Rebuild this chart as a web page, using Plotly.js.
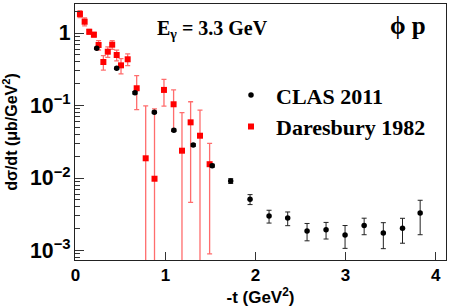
<!DOCTYPE html>
<html><head>
<script src="https://cdn.plot.ly/plotly-3.0.1.min.js"></script>
<style>html,body{margin:0;padding:0;background:#fff}</style>
</head><body>
<div id="chart" style="width:457px;height:307px"></div>
<script>
// CLAS 2011
const clasT   = [0.236, 0.458, 0.661, 0.876, 1.093, 1.308, 1.519, 1.724, 1.939, 2.150, 2.357, 2.572, 2.783, 2.994, 3.206, 3.419, 3.632, 3.828];
const clasY   = [0.615, 0.326, 0.150, 0.0806, 0.0455, 0.0285, 0.0148, 0.0091, 0.0051, 0.00299, 0.0028, 0.00186, 0.00194, 0.00164, 0.00222, 0.00174, 0.00202, 0.00329];
const clasErr = [0.02, 0.012, 0.006, 0.003, 0.0018, 0.0012, 0.0007, 0.0007, 0.0008, 0.0006, 0.0006, 0.0005, 0.0005, 0.00057, 0.00057, 0.00068, 0.00076, 0.00164];
// Daresbury 1982
const darT   = [0.050, 0.102, 0.153, 0.205, 0.257, 0.310, 0.359, 0.408, 0.458, 0.506, 0.580, 0.680, 0.780, 0.878, 0.983, 1.090, 1.183, 1.279, 1.383, 1.490];
const darY   = [1.83, 1.43, 1.04, 0.948, 0.683, 0.398, 0.552, 0.690, 0.497, 0.358, 0.434, 0.173, 0.0187, 0.00977, 0.164, 0.104, 0.0238, 0.0586, 0.0383, 0.0155];
const darErr = [0.20, 0.18, 0.08, 0.07, 0.10, 0.09, 0.09, 0.095, 0.085, 0.085, 0.08, 0.085, 0.080, 0.080, 0.066, 0.060, 0.056, 0.054, 0.048, 0.0146];

const legendFont = {family: 'Liberation Serif', size: 22, color: '#000', weight: 'bold'};

const traces = [
  {
    x: darT, y: darY, type: 'scatter', mode: 'markers', name: 'Daresbury 1982',
    legendrank: 2,
    marker: {symbol: 'square', size: 6, color: '#ff0000'},
    error_y: {type: 'data', array: darErr, visible: true, color: 'rgba(255,60,60,0.75)', thickness: 1.3, width: 2.5}
  },
  {
    x: clasT, y: clasY, type: 'scatter', mode: 'markers', name: 'CLAS 2011',
    legendrank: 1,
    marker: {symbol: 'circle', size: 5.5, color: '#000'},
    error_y: {type: 'data', array: clasErr, visible: true, color: '#222', thickness: 1, width: 2.5}
  }
];

const layout = {
  width: 457, height: 307,
  margin: {l: 75, r: 11, t: 4, b: 47},
  paper_bgcolor: '#fff', plot_bgcolor: '#fff',
  showlegend: true,
  legend: {x: 0.407, y: 0.726, xanchor: 'left', yanchor: 'top', font: legendFont,
           bgcolor: 'rgba(0,0,0,0)', itemwidth: 40, tracegroupgap: 0},
  xaxis: {
    range: [-0.005, 4.115], dtick: 1, tick0: 0,
    ticks: 'inside', ticklen: 8, tickwidth: 1, tickcolor: '#333',
    showline: true, linecolor: '#222', linewidth: 1, mirror: true,
    showgrid: false, zeroline: false,
    tickfont: {family: 'Liberation Sans', size: 17, color: '#000', weight: 'bold'},
    title: {text: '-t (GeV<sup>2</sup>)', standoff: 5,
            font: {family: 'Liberation Sans', size: 17, color: '#000', weight: 'bold'}}
  },
  yaxis: {
    type: 'log', range: [-3.131, 0.4], dtick: 1, exponentformat: 'power',
    ticks: 'inside', ticklen: 9, tickwidth: 1, tickcolor: '#333',
    minor: {dtick: 'D1', ticks: 'inside', ticklen: 5, tickwidth: 1, tickcolor: '#333', showgrid: false},
    showline: true, linecolor: '#222', linewidth: 1, mirror: true,
    showgrid: false, zeroline: false,
    tickfont: {family: 'Liberation Sans', size: 17, color: '#000', weight: 'bold'},
    title: {text: 'dσ/dt (μb/GeV<sup>2</sup>)', standoff: 8,
            font: {family: 'Liberation Sans', size: 16, color: '#000', weight: 'bold'}}
  },
  annotations: [
    {text: 'E<sub>γ</sub> = 3.3 GeV', xref: 'paper', yref: 'paper', x: 0.216, y: 0.90,
     xanchor: 'left', yanchor: 'middle', showarrow: false,
     font: {family: 'Liberation Serif', size: 20, color: '#000', weight: 'bold'}},
    {text: 'ϕ p', xref: 'paper', yref: 'paper', x: 0.844, y: 0.915,
     xanchor: 'left', yanchor: 'middle', showarrow: false,
     font: {family: 'Liberation Serif', size: 25, color: '#000', weight: 'bold'}}
  ]
};

Plotly.newPlot('chart', traces, layout, {staticPlot: true, displayModeBar: false});
</script>
</body></html>
